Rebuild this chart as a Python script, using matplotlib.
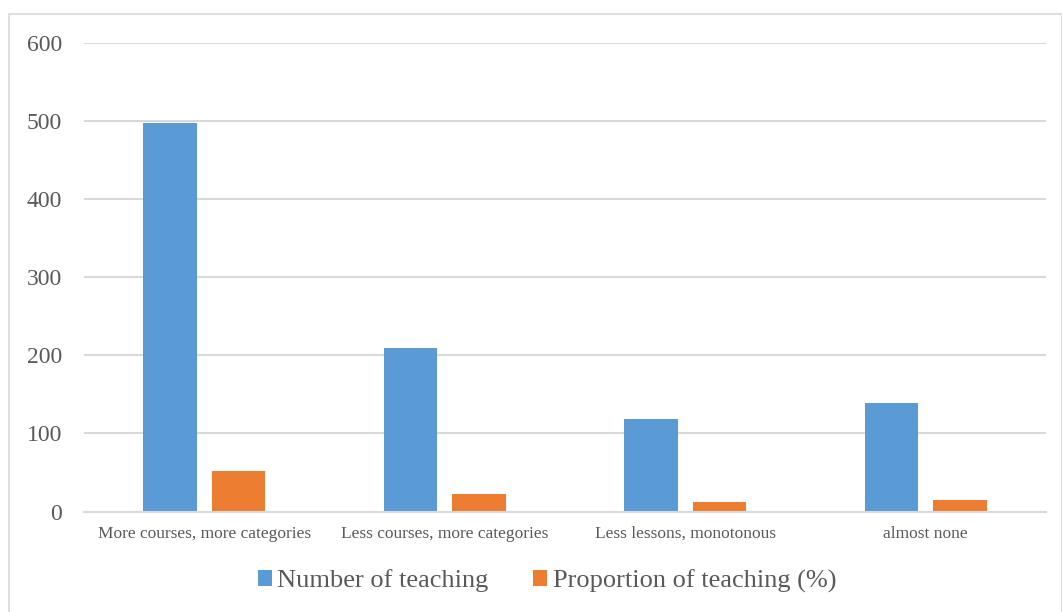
import numpy as np
import matplotlib.pyplot as plt
from matplotlib.patches import Rectangle

categories = ["More courses, more categories", "Less courses, more categories",
              "Less lessons, monotonous", "almost none"]
number_of_teaching = [498, 210, 118, 139]
proportion_of_teaching = [51.6, 21.8, 12.2, 14.4]
y_ticks = [0, 100, 200, 300, 400, 500, 600]

plt.rcParams['font.family'] = ['Liberation Serif', 'DejaVu Serif']

blue = '#5b9bd5'
orange = '#ed7d31'
grid_c = '#d9d9d9'
text_c = '#595959'

fig = plt.figure(figsize=(10.62, 6.12), dpi=100)
W, H = 1062, 612

# outer chart frame
fig.patches.append(Rectangle((9 / W, -0.01), (1061.5 - 9) / W, (612 - 14) / H + 0.01,
                             transform=fig.transFigure, fill=False,
                             edgecolor=grid_c, linewidth=1.2))

ax = fig.add_axes([84 / W, (612 - 511.5) / H, (1046 - 84) / W, (511.5 - 43) / H])

x = np.arange(len(categories))
bw = 0.222
off = 0.142
ax.bar(x - off, number_of_teaching, bw, color=blue, label="Number of teaching", zorder=3)
ax.bar(x + off, proportion_of_teaching, bw, color=orange, label="Proportion of teaching (%)", zorder=3)

ax.set_xlim(-0.5, len(categories) - 0.5)
ax.set_ylim(0, 600)
ax.set_yticks(y_ticks)
ax.set_yticklabels([str(v) for v in y_ticks], fontsize=17, color=text_c)
ax.set_xticks(x)
ax.set_xticklabels(categories, fontsize=12.5, color=text_c)
ax.tick_params(axis='y', length=0, pad=15.8)
ax.tick_params(axis='x', length=0, pad=10.5)
ax.grid(axis='y', color=grid_c, linewidth=1.5, zorder=0)
for s in ['top', 'right', 'left']:
    ax.spines[s].set_visible(False)
ax.spines['bottom'].set_color(grid_c)
ax.spines['bottom'].set_linewidth(1.5)
ax.spines['bottom'].set_zorder(4)

fig.legend(loc='center', bbox_to_anchor=(547 / W, (612 - 581) / H), ncol=2,
           frameon=False, prop={'size': 19}, labelcolor=text_c,
           handlelength=0.53, handleheight=0.53, handletextpad=0.2,
           columnspacing=1.7)

fig.savefig("out.png", dpi=100)
